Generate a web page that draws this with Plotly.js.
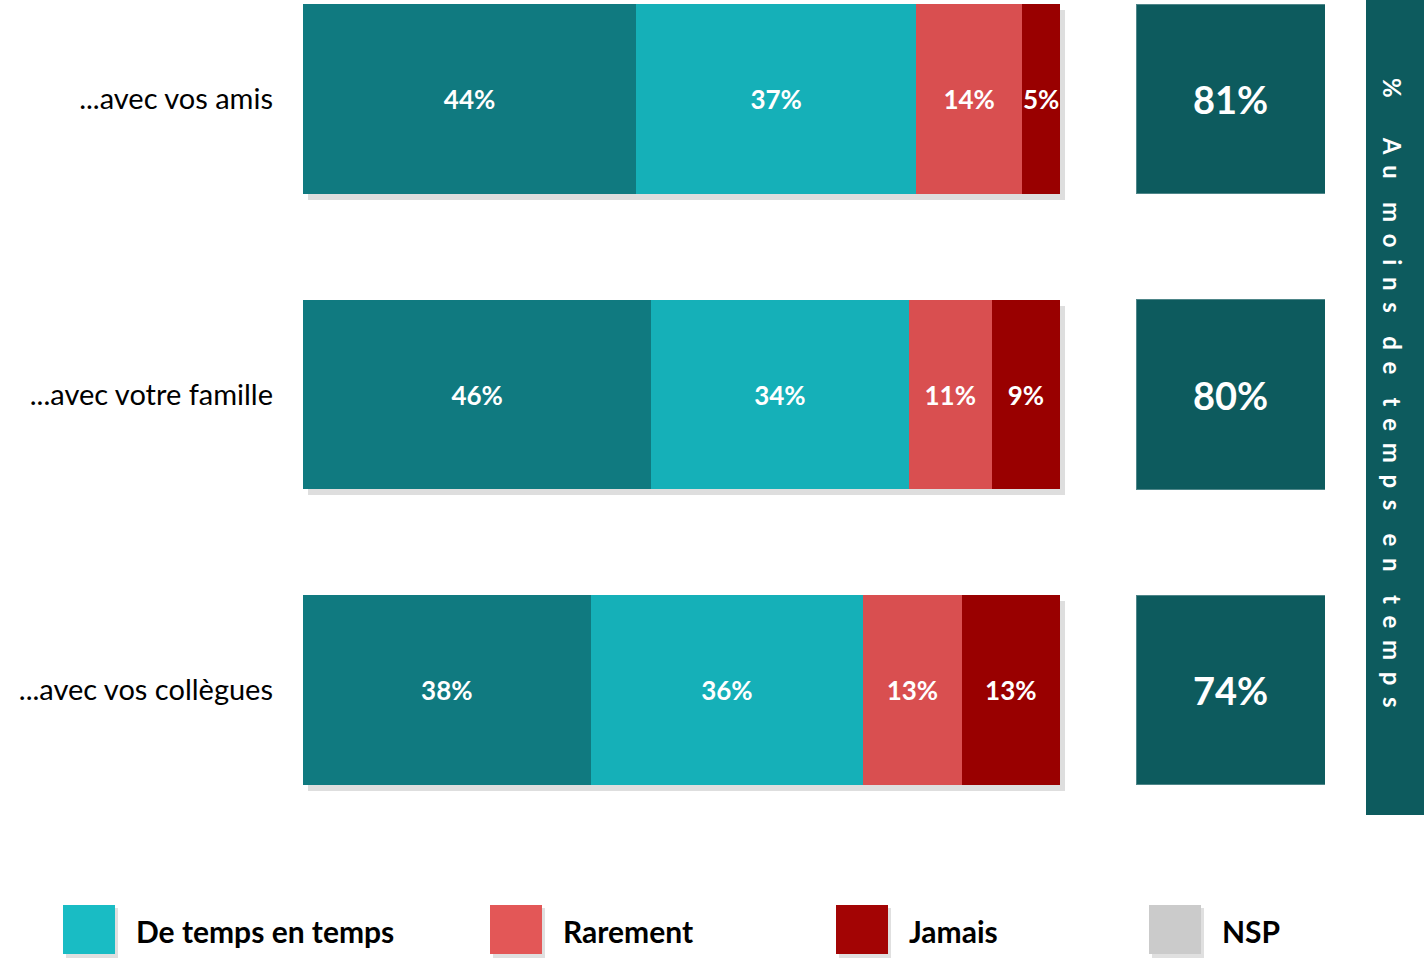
<!DOCTYPE html>
<html><head><meta charset="utf-8">
<script src="https://cdn.plot.ly/plotly-3.0.1.min.js"></script>
<style>html,body{margin:0;padding:0;background:#fff}#chart{width:1424px;height:958px}</style>
</head><body><div id="chart"></div>
<script>
const categories = ["...avec vos amis", "...avec votre famille", "...avec vos collègues"];
const souvent = [44, 46, 38];
const deTempsEnTemps = [37, 34, 36];
const rarement = [14, 11, 13];
const jamais = [5, 9, 13];
const legendLabels = ["De temps en temps", "Rarement", "Jamais", "NSP"];
const sideTitle = "% Au moins de temps en temps";

const FONT = "Lato, 'Open Sans', sans-serif";
const W = 1424, H = 958;
const barColors = ["#107A80", "#15B0B8", "#D94F50", "#990000"];
const legendColors = ["#19BCC4", "#E35757", "#A30404", "#CBCBCB"];
const series = [souvent, deTempsEnTemps, rarement, jamais];
const BW = 0.64;
const pxPerCat = 295.5, firstCenter = 99;
const yTop = -firstCenter / pxPerCat;
const yBottom = yTop + H / pxPerCat;

const sums = categories.map((_, i) => series.reduce((s, arr) => s + arr[i], 0));
// soft drop shadow (drawn in a subplot underneath, shifted a few pixels)
const traces = [{
  type: "bar", orientation: "h", y: categories, x: sums, xaxis: "x", yaxis: "y",
  marker: { color: "rgba(0,0,0,0.13)", line: { width: 0 } },
  width: BW, offset: -BW / 2 + 6 / pxPerCat,
  hoverinfo: "skip", showlegend: false
}];

series.forEach((vals, i) => traces.push({
  type: "bar", orientation: "h", y: categories, x: vals, xaxis: "x3", yaxis: "y",
  marker: { color: barColors[i], line: { width: 0 } },
  width: BW,
  text: vals.map(v => v + "%"), textposition: "inside", insidetextanchor: "middle",
  textangle: 0, constraintext: "none", cliponaxis: false,
  textfont: { family: FONT, size: 26, color: "#ffffff", weight: 700 },
  hoverinfo: "skip", showlegend: false
}));

const totals = souvent.map((v, i) => v + deTempsEnTemps[i]);
traces.push({
  type: "bar", orientation: "h", y: categories, x: totals.map(() => 1),
  xaxis: "x2", yaxis: "y",
  marker: { color: "#0D5B5E", line: { color: "#4E8689", width: 1 } },
  width: BW,
  text: totals.map(v => v + "%"), textposition: "inside", insidetextanchor: "middle",
  textangle: 0, constraintext: "none",
  textfont: { family: FONT, size: 38, color: "#ffffff", weight: 700 },
  hoverinfo: "skip", showlegend: false
});

const sp = n => " ".repeat(n);
const words = sideTitle.split(" ").map(w => w.split("").join(sp(2)));
const sideText = words[0] + sp(7) + words.slice(1).join(sp(4));

const shapes = [{
  type: "rect", xref: "paper", yref: "paper",
  x0: 1366 / W, x1: 1, y0: 1 - 815 / H, y1: 1,
  fillcolor: "#0D5B5E", line: { width: 0 }, layer: "below"
}];
const annotations = [{
  xref: "paper", yref: "paper", x: 1393 / W, y: 1 - 393 / H,
  text: sideText.replace(/ /g, "&nbsp;"),
  textangle: 90, showarrow: false, xanchor: "center", yanchor: "middle",
  font: { family: FONT, size: 24, color: "#ffffff", weight: 700 }
}];
const legendX = [63, 490, 836, 1149];
legendLabels.forEach((lab, i) => {
  shapes.push({
    type: "rect", xref: "paper", yref: "paper",
    x0: (legendX[i] + 3) / W, x1: (legendX[i] + 55) / W,
    y0: 1 - 958 / H, y1: 1 - 908 / H,
    fillcolor: "rgba(0,0,0,0.12)", line: { width: 0 }
  });
  shapes.push({
    type: "rect", xref: "paper", yref: "paper",
    x0: legendX[i] / W, x1: (legendX[i] + 52) / W,
    y0: 1 - 954 / H, y1: 1 - 905 / H,
    fillcolor: legendColors[i], line: { width: 0 }
  });
  annotations.push({
    xref: "paper", yref: "paper", x: (legendX[i] + 71) / W, y: 1 - 931 / H,
    text: lab, showarrow: false, xanchor: "left", yanchor: "middle",
    font: { family: FONT, size: 30, color: "#000000", weight: 700 }
  });
});

const hidden = { showgrid: false, zeroline: false, showticklabels: false, showline: false, fixedrange: true };
const layout = {
  width: W, height: H, margin: { l: 0, r: 0, t: 0, b: 0 },
  paper_bgcolor: "#ffffff", plot_bgcolor: "rgba(0,0,0,0)",
  barmode: "stack", showlegend: false,
  xaxis: Object.assign({ domain: [308 / W, 1065 / W], range: [0, 100], anchor: "y" }, hidden),
  xaxis2: Object.assign({ domain: [1136 / W, 1325 / W], range: [0, 1], anchor: "y" }, hidden),
  xaxis3: Object.assign({ domain: [303 / W, 1060 / W], range: [0, 100], anchor: "y" }, hidden),
  yaxis: { domain: [0, 1], range: [yBottom, yTop], type: "category", anchor: "x3",
    showgrid: false, zeroline: false, showline: false, ticks: "", fixedrange: true,
    ticklabelstandoff: 29,
    tickfont: { family: FONT, size: 29, color: "#000000" } },
  shapes, annotations
};
Plotly.newPlot("chart", traces, layout, { staticPlot: true, displayModeBar: false });
</script></body></html>
